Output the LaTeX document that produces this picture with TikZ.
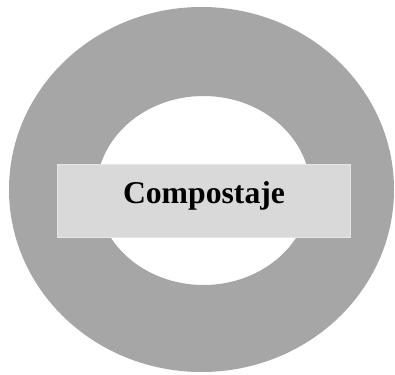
\documentclass[tikz,border=0pt]{standalone}
\usepackage{fontspec}
\setmainfont{Liberation Serif}
\definecolor{ringgray}{HTML}{A6A6A6}
\definecolor{boxgray}{HTML}{D9D9D9}
\definecolor{edgegray}{HTML}{E6E6E6}
\begin{document}
\begin{tikzpicture}[x=1pt, y=-1pt,
  plate/.style={draw=edgegray, line width=1.2pt, fill=boxgray, inner sep=0pt,
    minimum width=293pt, minimum height=73pt},
  title/.style={inner sep=0pt, font=\fontsize{31.7}{38}\selectfont\bfseries}]

  %% ════ 圆环（外椭圆减内椭圆）════
  \fill[ringgray, even odd rule] (201.5,189.5) ellipse (192.5 and 182.5)
                                 (203.5,190.5) ellipse (107 and 94.5);

  %% ════ 标签底板 ════
  \node[plate] (plate) at (204,201.2) {};

  %% ════ 标签 ════
  \node[title, anchor=base] (title) at (204,203.7) {Compostaje};

  % 钉死画布
  \pgfresetboundingbox
  \path[use as bounding box] (0,0) rectangle (395,374);
\end{tikzpicture}
\end{document}
